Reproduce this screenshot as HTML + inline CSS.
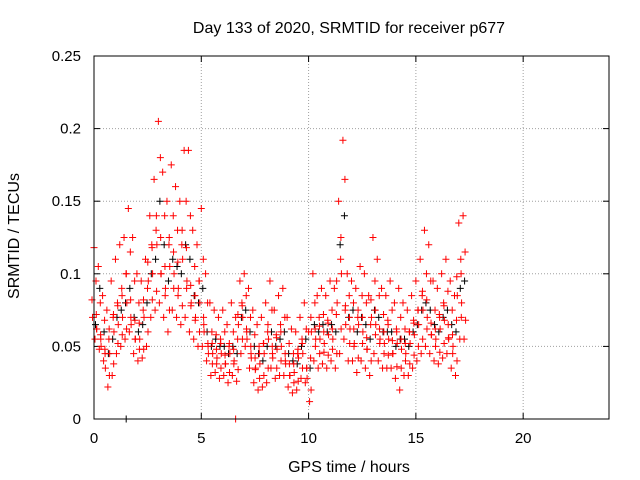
<!DOCTYPE html>
<html><head><meta charset="utf-8"><style>
body{margin:0;background:#fff}
svg{display:block;font-family:"Liberation Sans",sans-serif}
</style></head><body>
<svg id="chart" width="640" height="480" viewBox="0 0 640 480">
<text x="349" y="33" text-anchor="middle" font-size="16">Day 133 of 2020, SRMTID for receiver p677</text>
<g id="grid"></g>
<g id="axes"></g>
<g id="black"></g>
<g id="red"></g>
<rect x="94" y="56" width="515" height="363" fill="none" stroke="#000" stroke-width="1"/>
<text x="349" y="472" text-anchor="middle" font-size="16">GPS time / hours</text>
<text transform="translate(19,236) rotate(-90)" text-anchor="middle" font-size="16">SRMTID / TECUs</text>
</svg>
<script>
const times=[0.0,0.2,0.4,0.6,0.8,1.0,1.2,1.4,1.6,1.8,2.0,2.2,2.4,2.6,2.8,3.0,3.2,3.4,3.6,3.8,4.0,4.2,4.4,4.6,4.8,5.0,5.2,5.4,5.6,5.8,6.0,6.2,6.4,6.6,6.8,7.0,7.2,7.4,7.6,7.8,8.0,8.2,8.4,8.6,8.8,9.0,9.2,9.4,9.6,9.8,10.0,10.2,10.4,10.6,10.8,11.0,11.2,11.4,11.6,11.8,12.0,12.2,12.4,12.6,12.8,13.0,13.2,13.4,13.6,13.8,14.0,14.2,14.4,14.6,14.8,15.0,15.2,15.4,15.6,15.8,16.0,16.2,16.4,16.6,16.8,17.0,17.2];
const redA=[118,105,85,75,95,110,120,125,145,125,100,95,110,140,165,205,170,150,175,160,150,185,185,130,120,145,100,80,75,70,75,65,80,70,95,100,90,75,65,70,80,95,75,85,90,70,62,60,70,80,60,100,85,90,85,95,90,150,192,100,95,90,105,100,85,125,110,90,85,95,80,90,80,75,85,95,110,130,120,95,90,100,110,95,85,135,140];
const redB=[95,80,68,55,70,80,90,100,115,95,80,75,90,120,130,180,140,120,140,130,120,150,140,105,95,110,80,60,58,55,60,50,60,55,80,85,70,58,50,52,60,75,58,65,70,52,45,45,55,62,42,80,70,72,68,75,72,110,165,85,80,70,85,80,65,95,85,72,68,75,62,70,62,60,68,75,85,100,95,75,72,80,88,75,68,110,115];
const redC=[70,62,50,35,45,60,65,70,80,65,55,55,70,95,100,120,100,90,105,100,90,110,95,80,70,80,60,45,45,42,45,38,45,40,65,70,55,42,35,38,45,55,42,48,50,38,30,32,42,45,28,60,55,55,52,58,55,80,100,65,62,52,65,60,48,70,65,55,52,55,45,52,48,45,52,58,65,75,70,58,55,62,68,55,50,85,80];
const redD=[55,48,40,22,30,45,50,55,60,45,40,42,50,70,75,80,70,60,75,70,65,70,60,55,50,50,40,30,32,28,30,25,30,26,45,50,35,25,20,22,25,35,28,30,30,22,18,20,28,25,12,40,35,38,35,40,35,45,55,40,40,32,40,35,30,45,40,35,35,35,28,20,30,30,35,40,45,50,45,40,38,42,45,35,30,55,55];
const redE=[82,72,58,48,62,72,78,85,100,82,68,66,82,108,118,140,125,105,125,115,108,130,118,92,85,95,70,52,52,48,52,44,52,48,72,78,62,50,42,45,52,65,50,56,60,45,38,38,48,52,35,70,62,64,60,66,62,95,125,75,70,62,75,70,56,82,75,62,60,65,54,60,55,52,60,66,75,88,82,66,62,70,78,65,58,98,100];
const redF=[62,55,45,30,38,52,58,62,70,55,48,48,60,82,88,100,85,75,90,85,78,90,78,68,60,65,50,38,38,35,38,32,38,34,55,60,45,34,28,30,35,45,35,40,40,30,25,26,35,35,20,50,45,46,44,48,45,62,78,52,50,42,52,48,40,58,52,45,44,45,36,35,40,38,44,50,55,62,58,50,46,52,56,45,40,70,68];
const blackK=[65,90,60,45,55,70,75,80,90,70,60,65,80,100,110,150,120,95,110,105,100,120,110,85,80,90,60,50,55,50,50,45,50,45,70,75,60,50,45,40,50,60,50,55,60,45,40,38,50,55,35,65,60,65,60,65,60,120,140,70,75,60,70,65,55,75,70,60,60,60,50,55,55,50,60,65,75,80,75,65,60,70,75,65,60,90,95];
const yTicks=[0,0.05,0.1,0.15,0.2,0.25];
const yTickLabels=["0","0.05","0.1","0.15","0.2","0.25"];
const xTicks=[0,5,10,15,20];
const xTickLabels=["0","5","10","15","20"];
const NS="http://www.w3.org/2000/svg";
const X0=94,X1=609,Y0=419,Y1=56;
function xs(t){return X0+(t/24)*(X1-X0);}
function ys(v){return Y0-(v/0.25)*(Y0-Y1);}
function mk(tag,attrs,parent){const e=document.createElementNS(NS,tag);for(const k in attrs)e.setAttribute(k,attrs[k]);parent.appendChild(e);return e;}
const grid=document.getElementById('grid'),axes=document.getElementById('axes');
yTicks.forEach((v,i)=>{
  const y=ys(v);
  if(i>0&&i<yTicks.length-1){const g=mk('line',{x1:X0,x2:X1,y1:y,y2:y,stroke:'#a0a0a0','stroke-dasharray':'1,2'},grid);
  
  }
  mk('line',{x1:X0,x2:X0+6,y1:y,y2:y,stroke:'#000'},axes);
  mk('line',{x1:X1,x2:X1-6,y1:y,y2:y,stroke:'#000'},axes);
  const t=mk('text',{x:X0-13,y:y+5,'text-anchor':'end','font-size':'15'},axes);t.textContent=yTickLabels[i];
  
  
});
xTicks.forEach((v,i)=>{
  const x=xs(v);
  if(i>0){const g=mk('line',{x1:x,x2:x,y1:Y0,y2:Y1,stroke:'#a0a0a0','stroke-dasharray':'1,2'},grid);
  
  }
  mk('line',{x1:x,x2:x,y1:Y0,y2:Y0-6,stroke:'#000'},axes);
  mk('line',{x1:x,x2:x,y1:Y1,y2:Y1+6,stroke:'#000'},axes);
  const t=mk('text',{x:x,y:Y0+24,'text-anchor':'middle','font-size':'15'},axes);t.textContent=xTickLabels[i];
  
  
});
function plus(g,t,v,color,off){
  const x=xs(t)+off,y=ys(v/1000);
  const p=mk('path',{d:`M${x-3.5},${y}h7M${x},${y-3.5}v7`,stroke:color,'stroke-width':'1',fill:'none'},g);
  
  
}
const bg=document.getElementById('black'),rg=document.getElementById('red');
times.forEach((t,i)=>{plus(bg,t,blackK[i],'#000',1.5);});
plus(bg,1.5,0,'#000',0);
times.forEach((t,i)=>{
  plus(rg,t,redA[i],'#f00',0);
  plus(rg,t,redB[i],'#f00',2);
  plus(rg,t,redC[i],'#f00',-1.5);
  plus(rg,t,redD[i],'#f00',1);
  plus(rg,t,redE[i],'#f00',-2);
  plus(rg,t,redF[i],'#f00',2.5);
});
plus(rg,6.6,0,'#f00',0);
</script>
</body></html>
